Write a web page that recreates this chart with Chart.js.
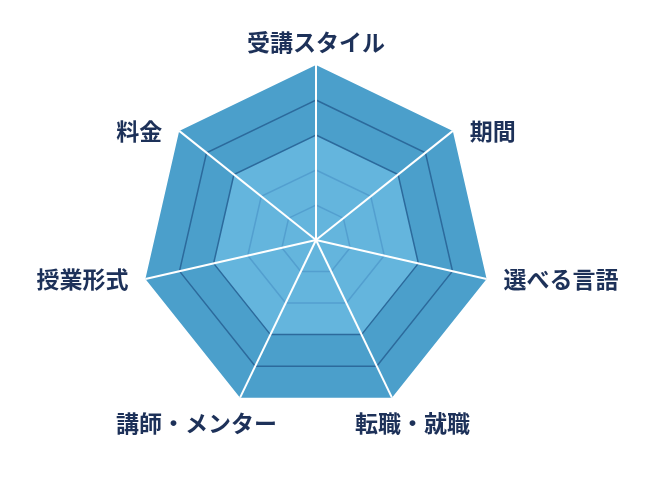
<!DOCTYPE html>
<html>
<head>
<meta charset="utf-8">
<title>レーダーチャート</title>
<script src="https://cdn.jsdelivr.net/npm/chart.js"></script>
<style>
  body { margin: 0; background: #fff; }
</style>
</head>
<body>
<canvas id="radarChart" width="658" height="485"></canvas>
<script>
const labels = ["受講スタイル", "期間", "選べる言語", "転職・就職", "講師・メンター", "授業形式", "料金"];
const outerValues = [5, 5, 5, 5, 5, 5, 5];
const innerValues = [3, 3, 3, 3, 3, 3, 3];
// one colour per tick ring (0..5)
const ringColors = ["rgba(0,0,0,0)", "#539fcf", "#539fcf", "#2c6a9c", "#2c6a9c", "rgba(0,0,0,0)"];

// labels drawn by hand so they sit beside the corners like the original
const cornerLabels = {
  id: "cornerLabels",
  afterDraw(chart) {
    const scale = chart.scales.r;
    const ctx = chart.ctx;
    ctx.save();
    ctx.font = "bold 23px 'Noto Sans CJK JP'";
    ctx.fillStyle = "#1d3159";
    ctx.textBaseline = "middle";
    labels.forEach((text, i) => {
      const p = scale.getPointPosition(i, scale.drawingArea);
      const dx = p.x - scale.xCenter;
      const dy = p.y - scale.yCenter;
      let x = p.x, y = p.y;
      if (Math.abs(dx) < 1) {
        ctx.textAlign = "center";
        y = dy < 0 ? p.y - 23 : p.y + 23;
      } else if (dy > scale.drawingArea * 0.6) {
        ctx.textAlign = dx > 0 ? "left" : "right";
        x = dx > 0 ? p.x - 37 : p.x + 37;
        y = p.y + 26;
      } else {
        ctx.textAlign = dx > 0 ? "left" : "right";
        x = dx > 0 ? p.x + 17 : p.x - 17;
      }
      ctx.fillText(text, x, y);
    });
    ctx.restore();
  }
};

const ctx = document.getElementById("radarChart").getContext("2d");
new Chart(ctx, {
  type: "radar",
  data: {
    labels: labels,
    datasets: [
      { data: innerValues, backgroundColor: "#64b5dd", order: 0 },
      { data: outerValues, backgroundColor: "#4b9fcb", order: 1 }
    ]
  },
  options: {
    responsive: false,
    animation: false,
    layout: { padding: { left: 141, right: 167, top: 65, bottom: 70 } },
    plugins: { legend: { display: false }, tooltip: { enabled: false } },
    elements: {
      line: { borderWidth: 0, fill: true },
      point: { radius: 0 }
    },
    scales: {
      r: {
        min: 0,
        max: 5,
        ticks: { stepSize: 1, display: false },
        pointLabels: { display: false },
        grid: { z: 1, color: ringColors, lineWidth: 1.5 },
        angleLines: { color: "#ffffff", lineWidth: 2 }
      }
    }
  },
  plugins: [cornerLabels]
});
</script>
</body>
</html>
